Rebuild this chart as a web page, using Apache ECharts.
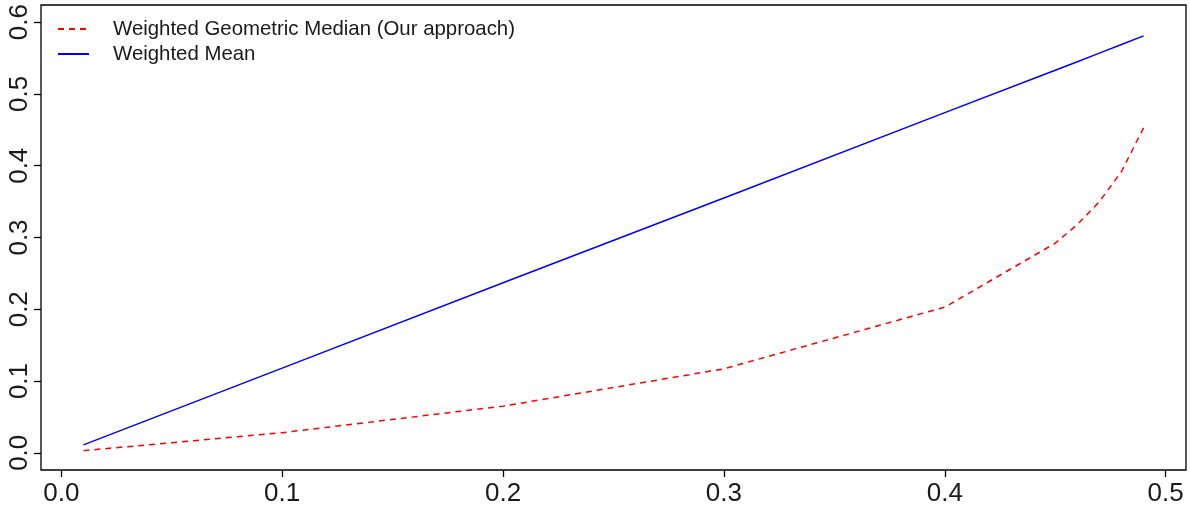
<!DOCTYPE html>
<html>
<head>
<meta charset="utf-8">
<script src="https://cdn.jsdelivr.net/npm/echarts@6/dist/echarts.min.js"></script>
<style>
  html, body { margin: 0; padding: 0; background: #fff; }
  #chart { width: 1190px; height: 507px; }
</style>
</head>
<body>
<div id="chart"></div>
<script>
// values
const xValues = [0.01, 0.1, 0.2, 0.3, 0.4, 0.45, 0.46, 0.47, 0.48, 0.49]
const geoMedian = [0.003, 0.028, 0.065, 0.117, 0.203, 0.292, 0.318, 0.350, 0.392, 0.453]
const weightedMean = [0.011, 0.118, 0.237, 0.355, 0.474, 0.533, 0.545, 0.557, 0.569, 0.581]
const xTicks = [0.0, 0.1, 0.2, 0.3, 0.4, 0.5]
const yTicks = [0.0, 0.1, 0.2, 0.3, 0.4, 0.5, 0.6]
const seriesNames = ['Weighted Geometric Median (Our approach)', 'Weighted Mean']

const font = 'Liberation Sans, Arial, Helvetica, sans-serif'
const chart = echarts.init(document.getElementById('chart'))

const toPairs = (ys) => xValues.map((x, i) => [x, ys[i]])

const option = {
  animation: false,
  backgroundColor: '#fff',
  grid: {
    left: 41, right: 4, top: 5, bottom: 36,
    show: true, borderColor: '#000', borderWidth: 1.3
  },
  legend: {
    orient: 'vertical',
    left: 52, top: 14,
    itemWidth: 31, itemHeight: 14, itemGap: 5,
    data: seriesNames,
    itemStyle: { opacity: 0 },
    textStyle: { fontFamily: font, fontSize: 20.4, color: '#1a1a1a', lineHeight: 20, padding: [0, 0, 0, 19] }
  },
  xAxis: {
    type: 'value',
    min: -0.0092, max: 0.5092,
    splitLine: { show: false },
    axisLine: { show: false, onZero: false },
    axisTick: { show: true, length: 7, lineStyle: { color: '#000', width: 1.3 }, customValues: xTicks },
    axisLabel: {
      customValues: xTicks, margin: 11,
      fontFamily: font, fontSize: 26, color: '#1a1a1a',
      formatter: (v) => v.toFixed(1)
    }
  },
  yAxis: {
    type: 'value',
    min: -0.024, max: 0.624,
    splitLine: { show: false },
    axisLine: { show: false, onZero: false },
    axisTick: { show: true, length: 7, lineStyle: { color: '#000', width: 1.3 }, customValues: yTicks },
    axisLabel: {
      customValues: yTicks, margin: 8, rotate: 90,
      fontFamily: font, fontSize: 26, color: '#1a1a1a',
      formatter: (v) => v.toFixed(1)
    }
  },
  series: [
    {
      name: seriesNames[0],
      type: 'line',
      data: toPairs(geoMedian),
      symbol: 'none',
      lineStyle: { color: '#ff0000', width: 1.5, type: [6, 5] },
      itemStyle: { color: '#ff0000' }
    },
    {
      name: seriesNames[1],
      type: 'line',
      data: toPairs(weightedMean),
      symbol: 'none',
      lineStyle: { color: '#0000ff', width: 1.5 },
      itemStyle: { color: '#0000ff' }
    }
  ]
}

chart.setOption(option)
</script>
</body>
</html>
